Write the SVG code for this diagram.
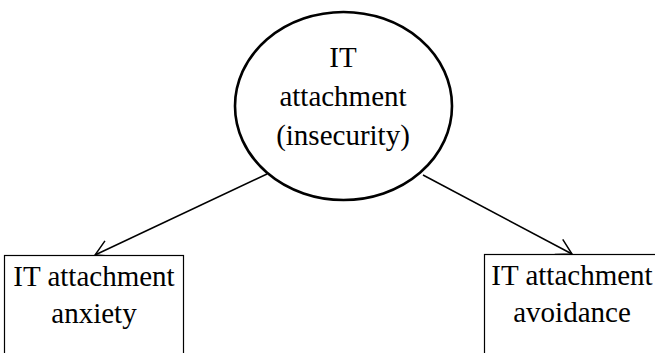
<svg xmlns="http://www.w3.org/2000/svg" width="655" height="353" viewBox="0 0 655 353">
  <style>
    text { font-family: 'Liberation Serif', 'Times New Roman', Times, 'DejaVu Serif', serif; font-size: 29px; fill: #000; text-anchor: middle; }
    .box { fill: #fff; stroke: #000; stroke-width: 1.2; }
    .oval { fill: #fff; stroke: #000; stroke-width: 2.6; }
    .edge { fill: none; stroke: #000; stroke-width: 1.5; }
  </style>
  <defs>
    <marker id="arrow" viewBox="0 0 20 20" refX="18" refY="10" markerWidth="20" markerHeight="20" markerUnits="userSpaceOnUse" orient="auto">
      <path d="M3,1.5 L18,10 L3,18.5" fill="none" stroke="#000" stroke-width="1.5"/>
    </marker>
  </defs>
  <rect width="655" height="353" fill="#fff"/>

  <g id="connectors">
    <line class="edge" x1="267" y1="174" x2="95" y2="255" marker-end="url(#arrow)"/>
    <line class="edge" x1="423" y1="175" x2="572" y2="254" marker-end="url(#arrow)"/>
  </g>

  <g id="node-insecurity">
    <ellipse class="oval" cx="343.5" cy="106" rx="108.5" ry="94"/>
    <text x="343" y="67">IT</text>
    <text x="343" y="106">attachment</text>
    <text x="343" y="145">(insecurity)</text>
  </g>

  <g id="node-anxiety">
    <rect class="box" x="4.5" y="255.5" width="179" height="110"/>
    <text x="94" y="286">IT attachment</text>
    <text x="94" y="323">anxiety</text>
  </g>

  <g id="node-avoidance">
    <rect class="box" x="484.5" y="254.5" width="179" height="110"/>
    <text x="572" y="285">IT attachment</text>
    <text x="572" y="322">avoidance</text>
  </g>
</svg>
